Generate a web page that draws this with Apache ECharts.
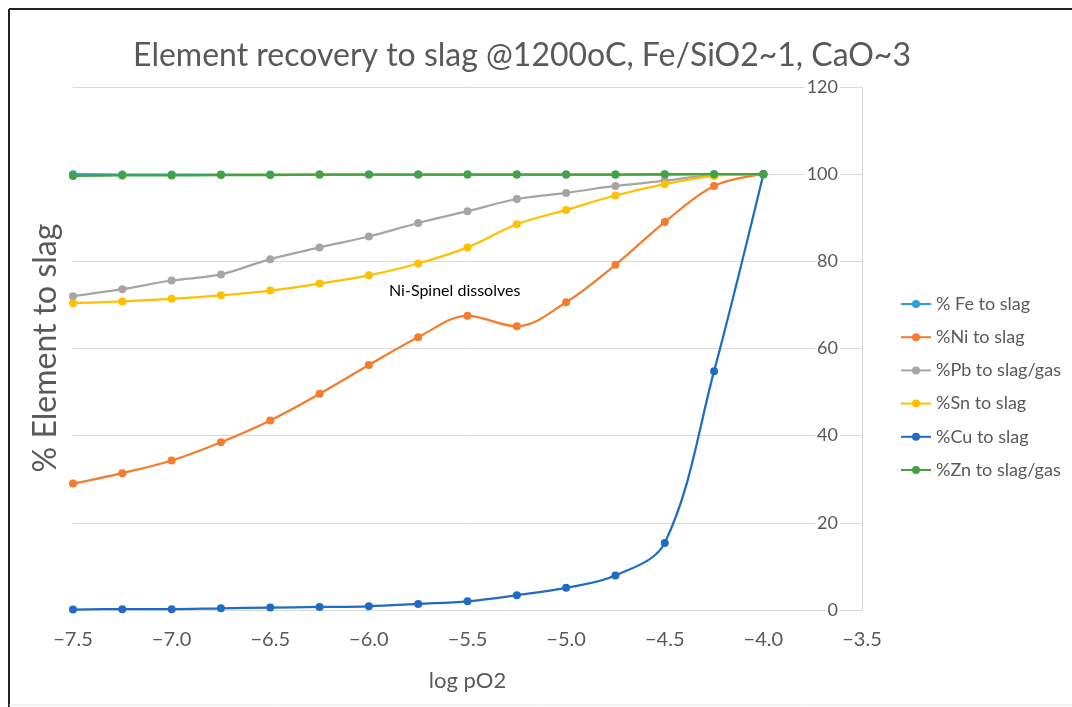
<!DOCTYPE html>
<html>
<head>
<meta charset="utf-8">
<title>Element recovery to slag</title>
<script src="https://cdn.jsdelivr.net/npm/echarts@6/dist/echarts.min.js"></script>
<style>
  html, body { margin: 0; padding: 0; background: #fff; }
  #chart { width: 1072px; height: 707px; }
</style>
</head>
<body>
<div id="chart"></div>
<script>
// log pO2 values
const logPO2 = [-7.5, -7.25, -7.0, -6.75, -6.5, -6.25, -6.0, -5.75, -5.5, -5.25, -5.0, -4.75, -4.5, -4.25, -4.0];

const feSlag = [100, 99.9, 99.9, 99.9, 99.9, 99.9, 99.9, 99.9, 99.9, 99.9, 99.9, 99.9, 99.9, 100, 100];
const niSlag = [29.0, 31.4, 34.3, 38.5, 43.5, 49.6, 56.2, 62.6, 67.5, 65.1, 70.6, 79.2, 89.0, 97.3, 100];
const pbSlag = [72.0, 73.6, 75.6, 77.0, 80.5, 83.2, 85.7, 88.8, 91.5, 94.3, 95.7, 97.3, 98.5, 99.8, 100];
const snSlag = [70.4, 70.8, 71.4, 72.2, 73.3, 74.9, 76.8, 79.5, 83.2, 88.5, 91.8, 95.1, 97.7, 99.6, 100];
const cuSlag = [0.1, 0.2, 0.2, 0.4, 0.55, 0.7, 0.85, 1.4, 2.0, 3.4, 5.1, 7.9, 15.4, 54.8, 100];
const znSlag = [99.6, 99.7, 99.7, 99.8, 99.8, 99.9, 99.9, 99.9, 99.9, 99.9, 99.9, 99.9, 100, 100, 100];

const seriesNames = ['% Fe to slag', '%Ni to slag', '%Pb to slag/gas', '%Sn to slag', '%Cu to slag', '%Zn to slag/gas'];
const seriesColors = ['#2c9fd8', '#f57c2c', '#a5a5a5', '#ffc000', '#1f6cc4', '#44a340'];
const allData = [feSlag, niSlag, pbSlag, snSlag, cuSlag, znSlag];

const textGray = '#595959';
const font = 'Lato, "Open Sans", sans-serif';

const chart = echarts.init(document.getElementById('chart'));

const series = [];
for (let i = 0; i < allData.length; i++) {
    const s = {
        name: seriesNames[i],
        type: 'line',
        smooth: 0.35,
        symbol: 'circle',
        symbolSize: 8,
        showSymbol: true,
        lineStyle: { width: 2.25, color: seriesColors[i] },
        itemStyle: { color: seriesColors[i] },
        data: logPO2.map((x, k) => [x, allData[i][k]])
    };
    if (i === 1) {
        // text note on the Ni curve
        s.markPoint = {
            symbol: 'circle',
            symbolSize: 0,
            silent: true,
            label: {
                show: true,
                position: 'inside',
                formatter: 'Ni-Spinel dissolves',
                color: '#000',
                fontSize: 16,
                fontFamily: font
            },
            data: [{ coord: [-5.565, 73.2] }]
        };
    }
    series.push(s);
}

const options = {
    animation: false,
    backgroundColor: '#fff',
    color: seriesColors,
    title: {
        text: 'Element recovery to slag @1200oC, Fe/SiO2~1, CaO~3',
        left: 517,
        textAlign: 'center',
        top: 35,
        textStyle: {
            color: textGray,
            fontSize: 32,
            fontWeight: 'normal',
            fontFamily: font
        }
    },
    grid: {
        left: 73,
        right: 210,
        top: 87,
        bottom: 97
    },
    legend: {
        orient: 'vertical',
        left: 895,
        top: 290,
        itemWidth: 30,
        itemHeight: 10,
        itemGap: 15.2,
        textStyle: { color: textGray, fontSize: 18, fontFamily: font },
        data: seriesNames
    },
    xAxis: {
        type: 'value',
        min: -7.5,
        max: -3.5,
        interval: 0.5,
        name: 'log pO2',
        nameLocation: 'middle',
        nameGap: 60,
        nameTextStyle: { color: textGray, fontSize: 22, fontFamily: font },
        axisLine: { show: true, onZero: false, lineStyle: { color: '#d9d9d9', width: 1 } },
        axisTick: { show: false },
        splitLine: { show: false },
        axisLabel: {
            color: textGray,
            fontSize: 20,
            fontFamily: font,
            margin: 20,
            formatter: function (v) { return v.toFixed(1).replace('-', '\u2212'); }
        }
    },
    yAxis: {
        type: 'value',
        position: 'right',
        min: 0,
        max: 120,
        interval: 20,
        axisLine: { show: true, lineStyle: { color: '#d9d9d9', width: 1 } },
        axisTick: { show: false },
        splitLine: { show: true, lineStyle: { color: '#d9d9d9', width: 1 } },
        axisLabel: {
            inside: true,
            margin: 22,
            color: textGray,
            fontSize: 18,
            fontFamily: font,
            backgroundColor: '#fff',
            padding: [0, 2, 0, 2]
        }
    },
    graphic: [
        {
            type: 'text',
            rotation: Math.PI / 2,
            x: 46, y: 348,
            style: {
                text: '% Element to slag',
                fill: textGray,
                fontSize: 32,
                fontFamily: font,
                align: 'center',
                verticalAlign: 'middle'
            }
        },
        { type: 'line', shape: { x1: 9, y1: 9, x2: 1072, y2: 9 }, style: { stroke: '#222', lineWidth: 2 } },
        { type: 'line', shape: { x1: 9, y1: 9, x2: 9, y2: 707 }, style: { stroke: '#222', lineWidth: 2 } },
        { type: 'line', shape: { x1: 9, y1: 705, x2: 1072, y2: 705 }, style: { stroke: '#e6e6e6', lineWidth: 1 } }
    ],
    series: series
};

chart.setOption(options, true);
</script>
</body>
</html>
